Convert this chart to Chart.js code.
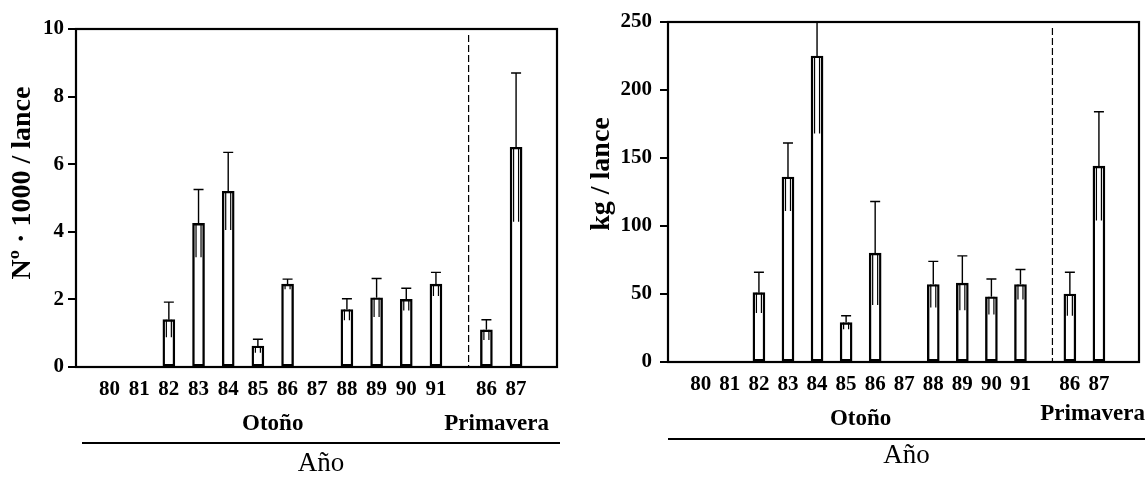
<!DOCTYPE html>
<html lang="es">
<head>
<meta charset="UTF-8">
<title>Capturas por lance</title>
<script src="https://cdn.jsdelivr.net/npm/chart.js"></script>
<style>
  body { margin: 0; background: #fff; }
  .panel { position: absolute; top: 0; }
  #left { left: 0; }
  #right { left: 580px; }
</style>
</head>
<body>
<div class="panel" id="left"><canvas id="numChart" width="580" height="477"></canvas></div>
<div class="panel" id="right"><canvas id="kgChart" width="567" height="477"></canvas></div>
<script>
const autumnYears = ['80', '81', '82', '83', '84', '85', '86', '87', '88', '89', '90', '91'];
const springYears = ['86', '87'];

// Nº · 1000 / lance
const numAutumn    = [null, null, 1.4, 4.25, 5.2, 0.62, 2.45, null, 1.7, 2.05, 2.0, 2.45];
const numAutumnErr = [null, null, 0.52, 1.0, 1.15, 0.2, 0.15, null, 0.32, 0.57, 0.33, 0.35];
const numSpring    = [1.1, 6.5];
const numSpringErr = [0.3, 2.2];

// kg / lance
const kgAutumn    = [null, null, 51, 136, 225, 29, 80, null, 57, 58, 48, 57];
const kgAutumnErr = [null, null, 15, 25, 57, 5, 38, null, 17, 20, 13, 11];
const kgSpring    = [50, 144];
const kgSpringErr = [16, 40];

const numTicks = [0, 2, 4, 6, 8, 10];
const kgTicks = [0, 50, 100, 150, 200, 250];

const SPRING_GAP = 1.7;   // distance from the last autumn bar to the first spring bar
const DIVIDER = 12.1;     // dashed line between the two seasons
const SERIF = "'Liberation Serif', 'Times New Roman', serif";

Chart.defaults.color = '#000';
Chart.defaults.font.family = SERIF;

const xPos = autumnYears.map((_, i) => i)
  .concat(springYears.map((_, i) => autumnYears.length - 1 + SPRING_GAP + i));
const xLabels = autumnYears.concat(springYears);

// thin error whisker above each bar, doubled inner lines for the lower half
const errorBars = {
  id: 'errorBars',
  afterDatasetsDraw(chart) {
    const { ctx, chartArea: a, scales: { y } } = chart;
    const data = chart.data.datasets[0].data;
    ctx.save();
    ctx.beginPath();
    ctx.rect(a.left, a.top - 1, a.width, a.height + 1);
    ctx.clip();
    ctx.strokeStyle = '#000';
    chart.getDatasetMeta(0).data.forEach((bar, i) => {
      const d = data[i];
      if (d.y == null) return;
      const hi = y.getPixelForValue(d.y + d.err);
      const lo = y.getPixelForValue(d.y - d.err);
      ctx.lineWidth = 1.4;
      ctx.beginPath();
      ctx.moveTo(bar.x, bar.y);
      ctx.lineTo(bar.x, hi);
      ctx.moveTo(bar.x - 5, hi);
      ctx.lineTo(bar.x + 5, hi);
      ctx.stroke();
      ctx.lineWidth = 1.2;
      ctx.beginPath();
      ctx.moveTo(bar.x - 2.5, bar.y);
      ctx.lineTo(bar.x - 2.5, lo);
      ctx.moveTo(bar.x + 2.5, bar.y);
      ctx.lineTo(bar.x + 2.5, lo);
      ctx.stroke();
    });
    ctx.restore();
  }
};

// box frame, season divider and the text below the axis
const panelText = {
  id: 'panelText',
  afterDraw(chart, args, o) {
    const { ctx, chartArea: a, scales: { x } } = chart;
    ctx.save();
    ctx.strokeStyle = '#000';
    ctx.fillStyle = '#000';

    ctx.lineWidth = 2.2;
    ctx.strokeRect(a.left, a.top, a.width, a.height);

    const dx = x.getPixelForValue(DIVIDER);
    ctx.lineWidth = 1.2;
    ctx.setLineDash([7, 3]);
    ctx.beginPath();
    ctx.moveTo(dx, a.top + 6);
    ctx.lineTo(dx, a.bottom);
    ctx.stroke();
    ctx.setLineDash([]);

    ctx.textBaseline = 'middle';
    ctx.textAlign = 'center';
    ctx.font = 'bold 28px ' + SERIF;
    ctx.save();
    ctx.translate(o.titleX, o.titleY);
    ctx.rotate(-Math.PI / 2);
    ctx.fillText(o.title, 0, 0);
    ctx.restore();

    ctx.font = 'bold 23px ' + SERIF;
    ctx.fillText('Otoño', x.getPixelForValue((autumnYears.length - 1) / 2), o.seasonY);
    ctx.textAlign = 'right';
    ctx.fillText('Primavera', a.right + o.springShift, o.springY);

    ctx.lineWidth = 2;
    ctx.beginPath();
    ctx.moveTo(o.lineFrom, o.lineY);
    ctx.lineTo(o.lineTo, o.lineY);
    ctx.stroke();

    ctx.textAlign = 'center';
    ctx.font = '27px ' + SERIF;
    ctx.fillText('Año', (o.lineFrom + o.lineTo) / 2, o.yearY);
    ctx.restore();
  }
};

function makeChart(id, values, errs, ticks, o) {
  const data = xPos.map((x, i) => ({ x, y: values[i], err: errs[i] }));
  const tickFont = { family: SERIF, size: 21, weight: 'bold' };
  return new Chart(document.getElementById(id), {
    type: 'bar',
    data: {
      datasets: [{
        data,
        backgroundColor: '#fff',
        borderColor: '#000',
        borderWidth: 2.4,
        borderSkipped: false,
        barThickness: 12
      }]
    },
    options: {
      responsive: false,
      animation: false,
      layout: { padding: { top: o.padTop, right: o.padRight, left: 0, bottom: 0 } },
      plugins: {
        legend: { display: false },
        tooltip: { enabled: false },
        panelText: o
      },
      scales: {
        x: {
          type: 'linear',
          min: -0.55,
          max: xPos[xPos.length - 1] + 0.8,
          grid: { display: false },
          border: { display: true, color: '#000', width: 2 },
          afterBuildTicks: s => { s.ticks = xPos.map(v => ({ value: v })); },
          afterFit: s => { s.height = o.xHeight; },
          ticks: {
            autoSkip: false,
            maxRotation: 0,
            padding: o.xPad,
            font: tickFont,
            callback: (v, i) => xLabels[i]
          }
        },
        y: {
          min: ticks[0],
          max: ticks[ticks.length - 1],
          afterBuildTicks: s => { s.ticks = ticks.map(v => ({ value: v })); },
          afterFit: s => { s.width = o.yWidth; },
          grid: { drawOnChartArea: false, drawTicks: true, tickLength: 8, color: '#000', lineWidth: 2 },
          border: { display: true, color: '#000', width: 2 },
          ticks: { padding: o.yPad, font: tickFont }
        }
      }
    },
    plugins: [errorBars, panelText]
  });
}

makeChart('numChart', numAutumn.concat(numSpring), numAutumnErr.concat(numSpringErr), numTicks, {
  title: 'Nº · 1000 / lance', titleX: 23, titleY: 183,
  padTop: 29, padRight: 23, xHeight: 110, yWidth: 76, xPad: 2, yPad: 4,
  seasonY: 424, springY: 424, springShift: -8,
  lineFrom: 82, lineTo: 560, lineY: 443, yearY: 464
});

makeChart('kgChart', kgAutumn.concat(kgSpring), kgAutumnErr.concat(kgSpringErr), kgTicks, {
  title: 'kg / lance', titleX: 22, titleY: 174,
  padTop: 22, padRight: 8, xHeight: 115, yWidth: 88, xPad: 2, yPad: 8,
  seasonY: 419, springY: 414, springShift: 6,
  lineFrom: 88, lineTo: 565, lineY: 439, yearY: 456
});
</script>
</body>
</html>
